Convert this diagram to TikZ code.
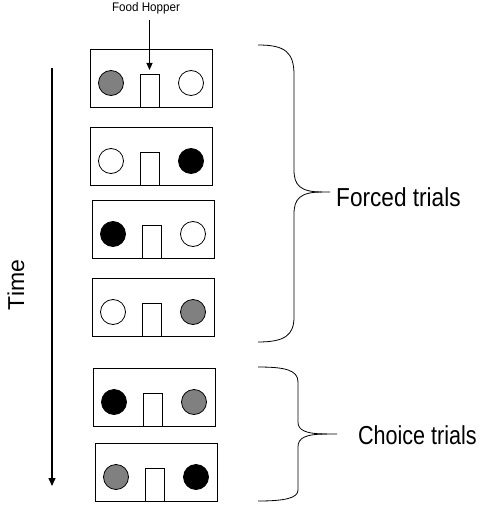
\documentclass[tikz,border=0pt]{standalone}
\usepackage{fontspec}
\usepackage{graphicx}
\setmainfont{Liberation Sans}
\usetikzlibrary{arrows.meta}
\definecolor{pelgray}{HTML}{808080}
\tikzset{
 chamberbox/.style={draw, line width=0.9pt, minimum width=122pt, minimum height=58pt, inner sep=0, outer sep=0, anchor=north west},
 pellet/.style={circle, draw, line width=0.8pt, minimum size=25pt, inner sep=0, outer sep=0},
 hopperbox/.style={draw, line width=0.8pt, fill=white, minimum width=19pt, minimum height=33pt, inner sep=0, outer sep=0, anchor=south west},
 bracepath/.style={line width=0.8pt},
 arr/.style={line width=0.9pt, -{Triangle[length=7pt,width=6pt]}},
 timearr/.style={line width=1.4pt, -{Triangle[length=8pt,width=7pt]}},
 biglabel/.style={font=\fontsize{26}{30}\selectfont, inner sep=0},
}
\newcommand\chamber[5]{%
 \node[chamberbox] (#1) at (#2,#3) {};
 \node[pellet, fill=#4] (#1l) at ([shift={(21,5)}]#1.west) {};
 \node[pellet, fill=#5] (#1r) at ([shift={(-21,5)}]#1.east) {};
 \node[hopperbox] (#1h) at ([shift={(50,0)}]#1.south west) {};
}
\begin{document}
\begin{tikzpicture}[x=1pt, y=-1pt]
\useasboundingbox (0,0) rectangle (479,508);
\chamber{b1}{90}{49}{pelgray}{white}
\chamber{b2}{90}{127}{white}{black}
\chamber{b3}{92}{200}{black}{white}
\chamber{b4}{92}{278}{white}{pelgray}
\chamber{b5}{93}{368}{black}{pelgray}
\chamber{b6}{95}{443}{pelgray}{black}
% food hopper label
\node[font=\fontsize{12.5}{14}\selectfont, inner sep=0] (fh) at (146,8) {\scalebox{0.93}[1]{Food Hopper}};
\draw[arr, shorten <=6pt, shorten >=4pt] (fh.south -| b1h.north) -- (b1h.north);
% time axis
\coordinate (tstart) at (52,68);
\coordinate (tend) at (52,486);
\draw[timearr] (tstart) -- (tend);
\node[rotate=90, font=\fontsize{23}{26}\selectfont, inner sep=0] (time) at (16,285) {Time};
% forced brace
\coordinate (ftip) at (330,192);
\draw[bracepath] (258,45) .. controls (285,45) and (294,52) .. (294,75) -- (294,170)
  .. controls (294,185) and (300,192) .. (322,192) -- (ftip);
\draw[bracepath] (322,192) .. controls (300,192) and (294,199) .. (294,214) -- (294,317)
  .. controls (294,335) and (285,342) .. (258,342);
\node[biglabel, anchor=west] (forced) at (336,197) {\scalebox{0.87}[1]{Forced trials}};
% choice brace
\coordinate (ctip) at (337,434);
\draw[bracepath] (258,367) .. controls (285,367) and (298,370) .. (298,382) -- (298,422)
  .. controls (298,430) and (305,434) .. (327,434) -- (ctip);
\draw[bracepath] (327,434) .. controls (305,434) and (298,438) .. (298,447) -- (298,490)
  .. controls (298,498) and (285,501) .. (258,501);
\node[biglabel, anchor=east] (choice) at (477,435) {\scalebox{0.83}[1]{Choice trials}};
\end{tikzpicture}
\end{document}
